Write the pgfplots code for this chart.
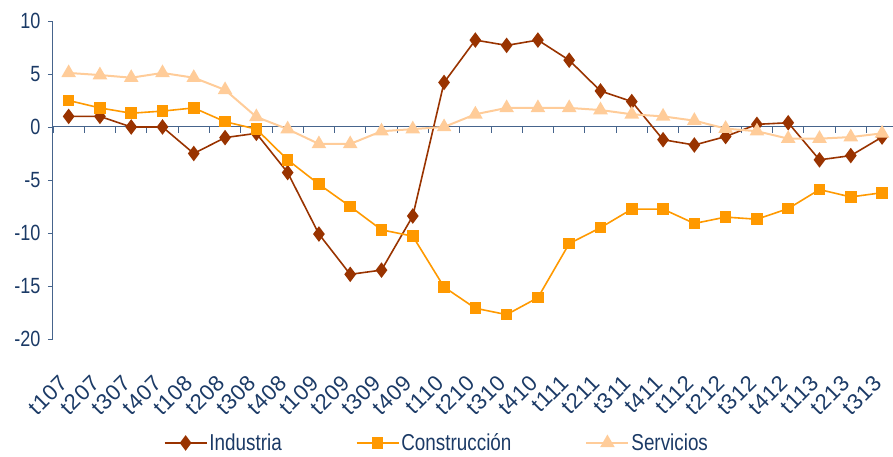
\documentclass[border=0pt]{standalone}
\usepackage{pgfplots}
\pgfplotsset{compat=1.18}
\usepackage{fontspec}
\setmainfont{Liberation Sans}[FakeStretch=0.82]
\newfontfamily\xfont{Liberation Sans}[LetterSpace=3]
\definecolor{txt}{HTML}{1B3A66}
\definecolor{axc}{HTML}{46648C}
\definecolor{ind}{HTML}{993300}
\definecolor{con}{HTML}{FF9900}
\definecolor{ser}{HTML}{FFCC99}
\pgfplotstableread{
x ind con ser
0 1.0 2.5 5.1
1 1.0 1.8 4.9
2 0.0 1.3 4.65
3 0.0 1.5 5.1
4 -2.5 1.8 4.65
5 -1.0 0.5 3.5
6 -0.6 -0.2 0.95
7 -4.3 -3.1 -0.2
8 -10.1 -5.4 -1.6
9 -13.9 -7.5 -1.6
10 -13.5 -9.7 -0.4
11 -8.4 -10.3 -0.2
12 4.2 -15.1 0.0
13 8.2 -17.1 1.2
14 7.7 -17.7 1.8
15 8.2 -16.1 1.8
16 6.3 -11.0 1.8
17 3.4 -9.5 1.6
18 2.4 -7.75 1.2
19 -1.2 -7.75 1.0
20 -1.7 -9.1 0.6
21 -0.9 -8.5 -0.15
22 0.25 -8.7 -0.4
23 0.4 -7.7 -1.1
24 -3.1 -5.9 -1.1
25 -2.7 -6.6 -0.95
26 -0.95 -6.2 -0.6
}\datatable
\begin{document}
\begin{tikzpicture}[font=\fontsize{22}{26}\selectfont]
% zero line with boundary ticks
\begin{axis}[
  scale only axis, width=840pt, height=318pt,
  xmin=-0.5, xmax=26.35, ymin=-20, ymax=10,
  axis x line=middle, axis y line=none,
  axis line style={-, draw=axc, line width=1pt},
  xtick={-0.5,0.5,...,25.5}, xticklabels={},
  tick align=outside, major tick length=6pt,
  xtick style={draw=axc, line width=0.8pt},
  ytick=\empty,
]
\addplot[draw=none] coordinates {(0,0)};
\end{axis}
\begin{axis}[
  scale only axis, width=840pt, height=318pt,
  xmin=-0.5, xmax=26.35, ymin=-20, ymax=10,
  axis x line=bottom, axis y line=left,
  x axis line style={draw=none},
  y axis line style={-, draw=axc, line width=1pt},
  xtick={0,...,26},
  xticklabels={t107,t207,t307,t407,t108,t208,t308,t408,t109,t209,t309,t409,t110,t210,t310,t410,t111,t211,t311,t411,t112,t212,t312,t412,t113,t213,t313},
  x tick style={draw=none},
  xticklabel style={font=\xfont\fontsize{22}{26}\selectfont, text=txt, yshift=-28pt, xshift=-10pt, rotate=45, anchor=north east, inner sep=1pt},
  ytick={-20,-15,...,10},
  y tick style={draw=axc, line width=0.8pt},
  tick align=outside, major tick length=5pt,
  yticklabel style={text=txt, font=\fontsize{22}{26}\selectfont, xshift=-4pt},
  /pgf/number format/assume math mode=true,
  legend columns=3,
  legend style={at={(0.457,-0.327)}, anchor=center, draw=none, fill=none,
    font=\fontsize{23}{27}\selectfont, text=txt,
    /tikz/every even column/.append style={column sep=72pt}},
  legend image code/.code={\draw[mark repeat=2,mark phase=2,#1] plot coordinates {(0pt,0pt) (21pt,0pt) (42pt,0pt)};},
]
\coordinate (o) at (axis cs:-0.5,-20);
\addplot[ind, line width=1.6pt, mark=diamond*, mark size=6.5pt, mark options={solid, fill=ind, draw=ind}] table[x=x,y=ind] {\datatable};
\addlegendentry{Industria}
\addplot[con, line width=1.6pt, mark=square*, mark size=5pt, mark options={solid, fill=con, draw=con}] table[x=x,y=con] {\datatable};
\addlegendentry{Construcción}
\addplot[ser, line width=2pt, mark=triangle*, mark size=6.5pt, mark options={solid, fill=ser, draw=ser}] table[x=x,y=ser] {\datatable};
\addlegendentry{Servicios}
\end{axis}
\pgfresetboundingbox
\path ([shift={(-53pt,-118pt)}]o) rectangle ([shift={(840pt,339pt)}]o);
\end{tikzpicture}
\end{document}
